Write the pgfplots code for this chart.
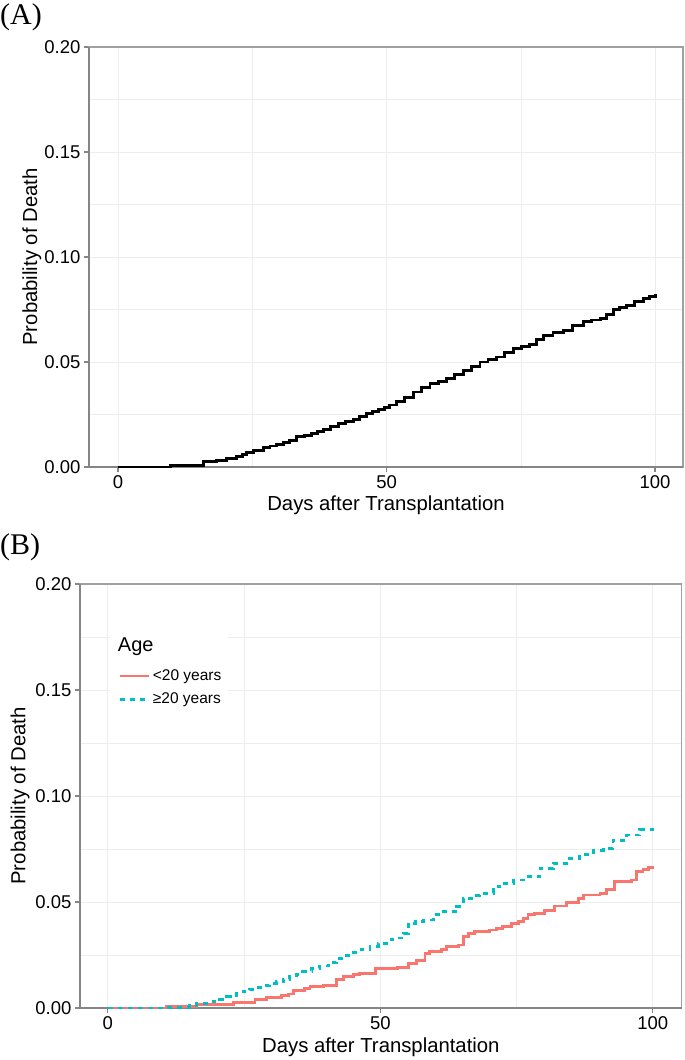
\documentclass[border=0pt]{standalone}
\usepackage{fontspec}
\setmainfont{Liberation Sans}
\newfontfamily\panelfont{Liberation Serif}
\usepackage{pgfplots}
\usepackage{pgfplotstable}
\pgfplotsset{compat=1.18}

\definecolor{kmred}{HTML}{F8766D}
\definecolor{kmcyan}{HTML}{00BFC4}
\definecolor{gridgrey}{HTML}{EDEDED}
\definecolor{framegrey}{HTML}{A0A0A0}
\definecolor{axisgrey}{HTML}{858585}

% (A) all patients
\pgfplotstableread{
day prob
0 0
9.7 0.0005
14.6 0.0008
15.9 0.0025
17.2 0.0028
18.4 0.0032
20.2 0.0040
22.1 0.0049
23.2 0.0060
24.0 0.0070
25.2 0.0079
27.1 0.0092
28.3 0.0100
29.5 0.0108
30.8 0.0116
32.0 0.0125
33.3 0.0144
34.7 0.0152
36.1 0.0160
37.1 0.0170
38.2 0.0180
39.6 0.0194
41.0 0.0208
42.4 0.0217
43.8 0.0227
45.0 0.0240
46.3 0.0254
47.4 0.0263
48.5 0.0273
49.6 0.0283
50.6 0.0295
51.9 0.0310
53.4 0.0333
55.0 0.0357
56.5 0.0377
58.1 0.0397
59.6 0.0408
61.2 0.0420
62.7 0.0440
64.3 0.0460
65.8 0.0480
67.4 0.0500
68.9 0.0512
70.5 0.0524
72.0 0.0545
73.6 0.0565
75.1 0.0575
76.7 0.0585
77.9 0.0606
79.2 0.0628
81.0 0.0640
82.9 0.0652
84.7 0.0672
86.6 0.0692
88.2 0.0700
89.8 0.0707
91.0 0.0728
92.2 0.0748
93.4 0.0759
94.7 0.0770
96.2 0.0786
97.8 0.0802
98.9 0.0813
100 0.0823
}\overall

% (B) age < 20 years
\pgfplotstableread{
day prob
0 0
10.8 0.0005
16.3 0.0017
23.0 0.0025
27.0 0.0038
29.1 0.0049
31.9 0.0060
33.1 0.0066
34.0 0.0082
36.1 0.0090
37.1 0.0100
39.5 0.0108
42.0 0.0135
43.2 0.0148
45.0 0.0156
46.2 0.0164
49.2 0.0187
53.2 0.0192
55.1 0.0210
56.6 0.0226
58.2 0.0258
59.1 0.0266
61.2 0.0274
62.1 0.0290
64.3 0.0297
65.2 0.0336
66.1 0.0352
67.3 0.0360
70.1 0.0368
71.3 0.0376
72.5 0.0384
74.1 0.0400
75.3 0.0410
76.2 0.0423
77.1 0.0439
78.3 0.0447
80.2 0.0462
82.0 0.0481
84.2 0.0497
86.3 0.0517
87.2 0.0533
90.3 0.0541
91.5 0.0560
93.0 0.0596
96.1 0.0604
97.0 0.0643
98.2 0.0654
99.2 0.0662
100 0.0670
}\young

% (B) age >= 20 years
\pgfplotstableread{
day prob
0 0
10.8 0.0003
15.0 0.0011
16.3 0.0022
19.3 0.0030
20.5 0.0040
21.8 0.0053
23.6 0.0069
24.8 0.0078
26.0 0.0088
27.3 0.0098
28.5 0.0108
29.7 0.0116
30.9 0.0124
32.2 0.0136
33.4 0.0148
34.6 0.0160
35.8 0.0171
37.4 0.0185
38.9 0.0198
40.5 0.0216
42.0 0.0234
43.5 0.0248
45.0 0.0261
46.5 0.0277
48.1 0.0292
49.6 0.0305
51.1 0.0321
52.3 0.0330
54.2 0.0352
55.1 0.0400
56.5 0.0408
57.9 0.0415
59.7 0.0439
61.5 0.0454
64.0 0.0478
65.2 0.0517
66.8 0.0530
68.3 0.0541
70.7 0.0572
71.9 0.0588
74.4 0.0604
76.8 0.0619
79.3 0.0659
81.7 0.0683
84.2 0.0706
86.6 0.0726
89.1 0.0745
90.9 0.0753
92.7 0.0792
95.2 0.0816
97.6 0.0840
100 0.0860
}\adult

\pgfplotsset{
  kmaxis/.style={
    scale only axis,
    ymin=0, ymax=0.2,
    xtick={0,50,100},
    ytick={0,0.05,0.1,0.15,0.2},
    minor xtick={25,75},
    minor ytick={0.025,0.075,0.125,0.175},
    grid=both,
    major grid style={draw=gridgrey, line width=0.9pt},
    minor grid style={draw=gridgrey, line width=0.5pt},
    tick align=outside, tick pos=left,
    major tick length=5pt, minor tick length=0pt,
    every tick/.style={draw=axisgrey, line width=1.2pt},
    axis line style={draw=framegrey, line width=1.2pt},
    scaled y ticks=false,
    /pgf/number format/assume math mode=true,
    ticklabel style={font=\fontsize{18.5}{18.5}\selectfont},
    yticklabel style={/pgf/number format/fixed,
                      /pgf/number format/fixed zerofill,
                      /pgf/number format/precision=2},
    label style={font=\fontsize{20.3}{21}\selectfont},
    xlabel={Days after Transplantation},
    ylabel={Probability of Death},
    clip=false,
  },
  kmline/.style={const plot, line width=2.9pt},
}

\begin{document}
\begin{tikzpicture}
\useasboundingbox (0pt,0pt) rectangle (685pt,1060pt);

\node[anchor=base west, inner sep=0pt, font=\panelfont\fontsize{30}{30}\selectfont]
  at (0pt,1035pt) {(A)};
\node[anchor=base west, inner sep=0pt, font=\panelfont\fontsize{30}{30}\selectfont]
  at (0pt,505pt) {(B)};

\begin{axis}[kmaxis,
    at={(89pt,593pt)}, anchor=south west,
    width=594pt, height=420pt,
    xmin=-5.4, xmax=105.2,
    xlabel style={at={(axis description cs:0.5,-0.0905)}, anchor=center},
    ylabel style={at={(axis description cs:-0.096,0.5)}, anchor=center},
  ]
  \draw[axisgrey, line width=1.4pt] (rel axis cs:0,1) -- (rel axis cs:0,0) -- (rel axis cs:1,0);
  \addplot[kmline, black] table[x=day, y=prob] {\overall};
\end{axis}

\begin{axis}[kmaxis,
    at={(80pt,52pt)}, anchor=south west,
    width=601.7pt, height=424pt,
    xmin=-5.1, xmax=105.3,
    xlabel style={at={(axis description cs:0.5,-0.092)}, anchor=center},
    ylabel style={at={(axis description cs:-0.0993,0.5)}, anchor=center},
    legend cell align=left,
    legend style={draw=none, fill=none, at={(axis cs:1.47,0.1615)}, anchor=north west,
                  row sep=7pt, font=\fontsize{15.5}{16}\selectfont},
    legend image code/.code={\draw[#1] (0pt,0pt) -- (19pt,0pt);
                             \path (0pt,0pt) -- (29pt,0pt);},
  ]
  \draw[axisgrey, line width=1.4pt] (rel axis cs:0,1) -- (rel axis cs:0,0) -- (rel axis cs:1,0);
  \fill[white] (axis cs:0.37,0.179) rectangle (axis cs:22.0,0.1396);
  \node[anchor=west, inner sep=0pt, font=\fontsize{20}{20}\selectfont]
    at (axis cs:1.83,0.1702) {Age};
  \addplot[kmline, kmred] table[x=day, y=prob] {\young};
  \addlegendentry{<20 years}
  \addplot[kmline, kmcyan, dash pattern=on 5pt off 5pt] table[x=day, y=prob] {\adult};
  \addlegendentry{≥20 years}
\end{axis}
\end{tikzpicture}
\end{document}
